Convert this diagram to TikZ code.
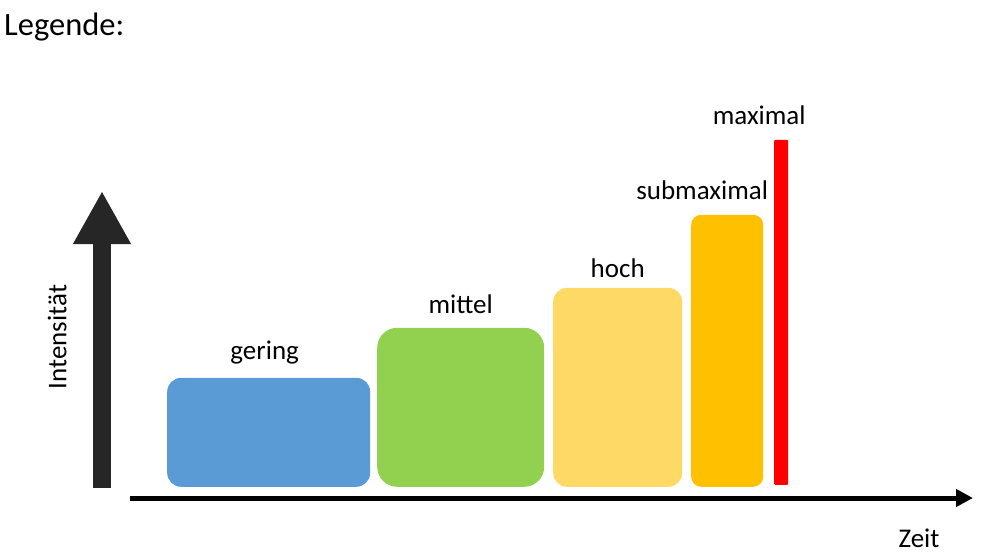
\documentclass[tikz,border=0pt]{standalone}
\usepackage{fontspec}
\setmainfont{Carlito}
\usepackage{xcolor}
\usepackage{tikz}
\usetikzlibrary{positioning,arrows.meta}

\definecolor{geringBlue}{HTML}{5B9BD5}
\definecolor{mittelGreen}{HTML}{92D050}
\definecolor{hochYellow}{HTML}{FFD966}
\definecolor{subOrange}{HTML}{FFC000}
\definecolor{maxRed}{HTML}{FF0000}
\definecolor{axisGray}{HTML}{262626}

\tikzset{
  bar/.style={anchor=south west, inner sep=0pt, draw=none, rounded corners=14pt},
  lbl/.style={inner sep=0pt, text depth=6pt, font=\fontsize{27}{31}\selectfont},
}

\begin{document}
\begin{tikzpicture}[x=1pt, y=-1pt]
    \useasboundingbox (0,0) rectangle (986,559);

    \node[anchor=west, inner sep=0pt, font=\fontsize{32.5}{37}\selectfont] (legende) at (4,27) {Legende:};

    % axes
    \draw[axisGray, line width=18pt, -{Triangle[width=54pt, length=53pt]}] (102,488) -- (102,191);
    \draw[line width=5pt, -{Triangle[width=17pt, length=17pt]}] (130,498) -- (973,498);
    \node[lbl, rotate=90] (intens) at (60,337) {Intensität};
    \node[lbl] (zeit) at (919,541) {Zeit};

    % bars
    \node[bar, fill=geringBlue, minimum width=203pt, minimum height=109pt] (gering) at (167,487) {};
    \node[bar, fill=mittelGreen, minimum width=167pt, minimum height=159pt, rounded corners=20pt] (mittel) at (377,487) {};
    \node[bar, fill=hochYellow, minimum width=129pt, minimum height=199pt] (hoch) at (553,487) {};
    \node[bar, fill=subOrange, minimum width=72pt, minimum height=272pt, rounded corners=10pt] (submax) at (691,487) {};
    \node[bar, fill=maxRed, minimum width=14pt, minimum height=345pt, rounded corners=1pt] (maxi) at (774,485) {};

    % labels
    \node[lbl, above=12pt of gering, xshift=-4pt] {gering};
    \node[lbl, above=8pt of mittel] {mittel};
    \node[lbl, above=4pt of hoch] {hoch};
    \node[lbl, above=9pt of submax, xshift=-25pt] {submaximal};
    \node[lbl, above=9pt of maxi, xshift=-22pt] {maximal};
\end{tikzpicture}
\end{document}
